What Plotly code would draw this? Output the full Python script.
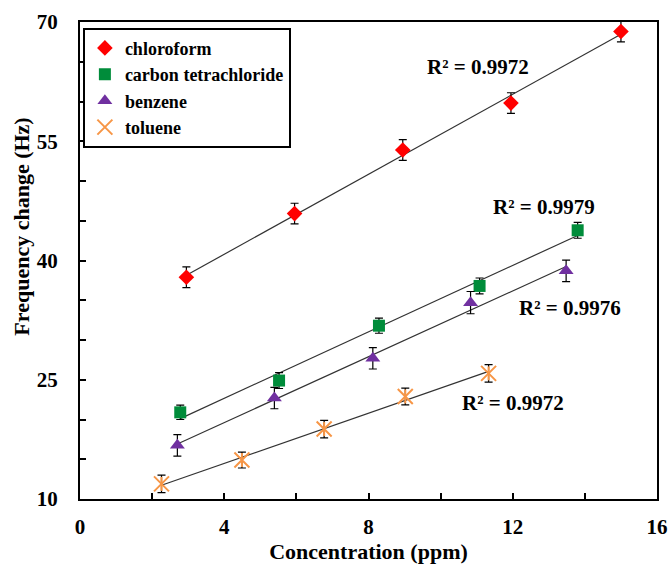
import numpy as np
import plotly.graph_objects as go

# ---- data ----
chloro_x = [2.95, 5.95, 8.95, 11.95, 15.0]
chloro_y = [37.9, 45.9, 53.9, 59.8, 68.8]
chloro_err = [1.3, 1.3, 1.3, 1.3, 1.3]

ct_x = [2.78, 5.52, 8.29, 11.08, 13.8]
ct_y = [20.9, 24.9, 31.8, 36.8, 43.8]
ct_err = [0.9, 1.0, 0.95, 1.0, 1.0]

benz_x = [2.7, 5.39, 8.12, 10.83, 13.48]
benz_y = [16.75, 22.7, 27.7, 34.7, 38.7]
benz_err = [1.35, 1.35, 1.35, 1.4, 1.35]

tol_x = [2.26, 4.49, 6.77, 9.02, 11.33]
tol_y = [11.9, 14.9, 18.8, 22.9, 25.8]
tol_err = [1.1, 1.0, 1.1, 1.05, 1.1]

names = ["chloroform", "carbon tetrachloride", "benzene", "toluene"]
r2_labels = ["R² = 0.9972", "R² = 0.9979", "R² = 0.9976", "R² = 0.9972"]

x_ticks = [0, 4, 8, 12, 16]
y_ticks = [10, 25, 40, 55, 70]

FONT = "Liberation Serif, Times New Roman, serif"

series = [
    (chloro_x, chloro_y, chloro_err, "#FF0000", "diamond", 12, 0),
    (ct_x, ct_y, ct_err, "#008C3A", "square", 12, 0),
    (benz_x, benz_y, benz_err, "#7030A0", "triangle-up", 13, 0),
    (tol_x, tol_y, tol_err, "#F79646", "x-thin-open", 15, 2),
]

fig = go.Figure()

# trend lines (least-squares fit of each series)
for (xs, ys, es, col, sym, sz, lw) in series:
    k, b = np.polyfit(xs, ys, 1)
    xl = [min(xs), max(xs)]
    fig.add_trace(go.Scatter(x=xl, y=[k * v + b for v in xl], mode="lines",
                             line=dict(color="#333333", width=1.2),
                             showlegend=False, hoverinfo="skip"))

# markers with error bars
for name, (xs, ys, es, col, sym, sz, lw) in zip(names, series):
    if sym == "x-thin-open":
        marker = dict(symbol=sym, size=sz, color=col, line=dict(color=col, width=lw))
    else:
        marker = dict(symbol=sym, size=sz, color=col, line=dict(width=0))
    fig.add_trace(go.Scatter(
        x=xs, y=ys, mode="markers", name=name, marker=marker,
        error_y=dict(type="data", array=es, visible=True, color="black",
                     thickness=1.2, width=4),
    ))
    if sym == "x-thin-open":
        fig.add_trace(go.Scatter(
            x=xs, y=ys, mode="markers", showlegend=False, hoverinfo="skip",
            marker=dict(symbol="line-ns-open", size=10, color=col,
                        line=dict(color=col, width=2)),
        ))

# R^2 annotations
ann_pos = [(11.05, 64.4), (12.88, 46.7), (13.6, 34.0), (12.02, 22.1)]
for (ax_, ay_), txt in zip(ann_pos, r2_labels):
    fig.add_annotation(x=ax_, y=ay_, text=txt, showarrow=False,
                       font=dict(family=FONT, size=21, color="black", weight="bold"))

# y-axis title (rotated annotation; in the reference it sits above centre)
fig.add_annotation(x=-0.1005, y=0.571, xref="paper", yref="paper",
                   text="Frequency change (Hz)", textangle=-90, showarrow=False,
                   xanchor="center", yanchor="middle",
                   font=dict(family=FONT, size=22, color="black", weight="bold"))

axis_common = dict(
    showgrid=False, zeroline=False, showline=True, linecolor="black",
    linewidth=2, mirror=True, ticks="inside", ticklen=6, tickwidth=1.5,
    tickcolor="black",
    tickfont=dict(family=FONT, size=21, color="black", weight="bold"),
)

fig.update_xaxes(
    range=[0, 16], tickvals=x_ticks, ticklabelstandoff=8,
    minor=dict(dtick=2, ticks="inside", ticklen=6, tickwidth=1.5, tickcolor="black"),
    title=dict(text="Concentration (ppm)", standoff=4,
               font=dict(family=FONT, size=22, color="black", weight="bold")),
    **axis_common,
)
fig.update_yaxes(
    range=[10, 70], tickvals=y_ticks, ticklabelstandoff=16,
    minor=dict(dtick=5, ticks="inside", ticklen=6, tickwidth=1.5, tickcolor="black"),
    **axis_common,
)

fig.update_layout(
    width=669, height=568,
    margin=dict(l=80, r=12, t=22, b=69, autoexpand=False),
    plot_bgcolor="white", paper_bgcolor="white",
    legend=dict(x=0.005, y=0.988, xanchor="left", yanchor="top",
                bordercolor="black", borderwidth=2, bgcolor="white",
                font=dict(family=FONT, size=18, color="black", weight="bold"),
                tracegroupgap=0, itemwidth=30),
    showlegend=True,
)

fig.write_html("out.html")
